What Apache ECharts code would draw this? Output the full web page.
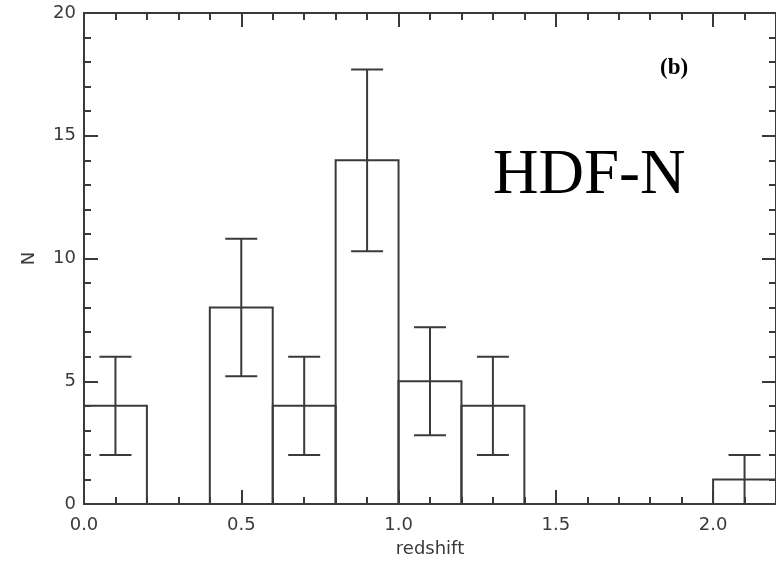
<!DOCTYPE html>
<html>
<head>
<meta charset="utf-8">
<script src="https://cdn.jsdelivr.net/npm/echarts@6/dist/echarts.min.js"></script>
<style>
  html, body { margin: 0; padding: 0; background: #fff; }
  #main { width: 776px; height: 565px; }
</style>
</head>
<body>
<div id="main"></div>
<script>
// histogram bins (left edge), width 0.2
let binStart = [0.0, 0.2, 0.4, 0.6, 0.8, 1.0, 1.2, 1.4, 1.6, 1.8, 2.0];
let binWidth = 0.2;
let counts = [4, 0, 8, 4, 14, 5, 4, 0, 0, 0, 1];
// error bars
let errLow = [2, null, 5.2, 2, 10.3, 2.8, 2, null, null, null, 0];
let errHigh = [6, null, 10.8, 6, 17.7, 7.2, 6, null, null, null, 2];

let container = document.querySelector('#main');
let charts = echarts.init(container);

let ink = '#3a3a3a';
let labelFont = { color: ink, fontFamily: 'DejaVu Sans', fontSize: 18 };

let barData = binStart.map((x, i) => [x, x + binWidth, counts[i]]).filter(d => d[2] > 0);
let errData = binStart.map((x, i) => [x + binWidth / 2, errLow[i], errHigh[i]]).filter(d => d[1] !== null);

// one axis = one set of inside ticks; major and minor ticks get separate axes
function tickAxis(extra, len, showLine) {
  return Object.assign({
    type: 'value',
    axisLine: { show: showLine, onZero: false, lineStyle: { color: ink, width: 2 } },
    axisTick: { show: true, inside: true, length: len, lineStyle: { color: ink, width: 2 } },
    axisLabel: { show: false },
    splitLine: { show: false }
  }, extra);
}

let xr = { min: 0, max: 2.2 };
let yr = { min: 0, max: 20 };

charts.setOption({
  animation: false,
  grid: { left: 84, right: -3, top: 13, bottom: 61 },
  xAxis: [
    tickAxis(Object.assign({
      interval: 0.5, position: 'bottom',
      name: 'redshift', nameLocation: 'middle', nameGap: 36,
      nameTextStyle: { color: ink, fontFamily: 'DejaVu Sans', fontSize: 18 },
      axisLabel: Object.assign({ show: true, margin: 12, showMaxLabel: false, formatter: v => v.toFixed(1) }, labelFont)
    }, xr), 14, true),
    tickAxis(Object.assign({ interval: 0.1, position: 'bottom' }, xr), 7, false),
    tickAxis(Object.assign({ interval: 0.5, position: 'top' }, xr), 14, true),
    tickAxis(Object.assign({ interval: 0.1, position: 'top' }, xr), 7, false)
  ],
  yAxis: [
    tickAxis(Object.assign({
      interval: 5, position: 'left',
      name: 'N', nameLocation: 'middle', nameGap: 46,
      nameTextStyle: { color: ink, fontFamily: 'DejaVu Sans', fontSize: 18 },
      axisLabel: Object.assign({ show: true, margin: 8 }, labelFont)
    }, yr), 14, true),
    tickAxis(Object.assign({ interval: 1, position: 'left' }, yr), 7, false),
    tickAxis(Object.assign({ interval: 5, position: 'right' }, yr), 14, true),
    tickAxis(Object.assign({ interval: 1, position: 'right' }, yr), 7, false)
  ],
  series: [
    {
      type: 'custom',
      xAxisIndex: 0, yAxisIndex: 0,
      data: barData,
      renderItem: function (params, api) {
        let p0 = api.coord([api.value(0), 0]);
        let p1 = api.coord([api.value(1), api.value(2)]);
        return {
          type: 'rect',
          shape: { x: p0[0], y: p1[1], width: p1[0] - p0[0], height: p0[1] - p1[1] },
          style: { fill: 'none', stroke: ink, lineWidth: 2 }
        };
      }
    },
    {
      type: 'custom',
      xAxisIndex: 0, yAxisIndex: 0,
      data: errData,
      renderItem: function (params, api) {
        let lo = api.coord([api.value(0), api.value(1)]);
        let hi = api.coord([api.value(0), api.value(2)]);
        let cap = 16;
        let st = { stroke: ink, lineWidth: 2 };
        return {
          type: 'group',
          children: [
            { type: 'line', shape: { x1: lo[0], y1: lo[1], x2: hi[0], y2: hi[1] }, style: st },
            { type: 'line', shape: { x1: lo[0] - cap, y1: lo[1], x2: lo[0] + cap, y2: lo[1] }, style: st },
            { type: 'line', shape: { x1: hi[0] - cap, y1: hi[1], x2: hi[0] + cap, y2: hi[1] }, style: st }
          ]
        };
      }
    }
  ],
  graphic: [
    {
      type: 'text', left: 493, top: 145,
      style: { text: 'HDF-N', fontFamily: 'Liberation Serif', fontSize: 63, fill: '#000' }
    },
    {
      type: 'text', left: 660, top: 57,
      style: { text: '(b)', fontFamily: 'Liberation Serif', fontWeight: 'bold', fontSize: 23, fill: '#000' }
    }
  ]
});
</script>
</body>
</html>
